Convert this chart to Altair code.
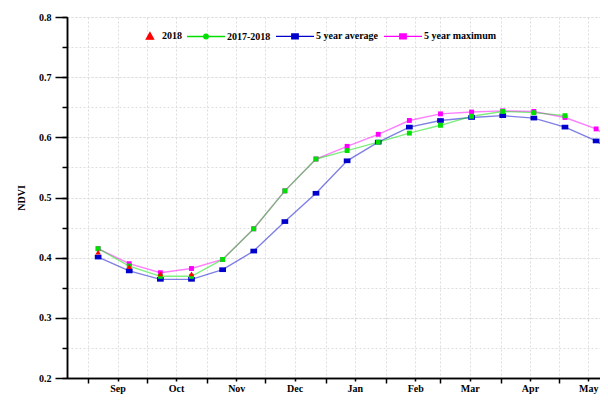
import altair as alt
import pandas as pd

# 16-day composite dates (x positions of the points)
dates = ["2017-09-06", "2017-09-22", "2017-10-08", "2017-10-24", "2017-11-09",
         "2017-11-25", "2017-12-11", "2017-12-27", "2018-01-12", "2018-01-28",
         "2018-02-13", "2018-03-01", "2018-03-17", "2018-04-02", "2018-04-18",
         "2018-05-04", "2018-05-20", "2018-06-05"]

max5 = [0.415, 0.390, 0.375, 0.382, 0.397, 0.448, 0.511, 0.564, 0.585, 0.605,
        0.628, 0.639, 0.642, 0.644, 0.643, 0.633, 0.614, 0.582]
avg5 = [0.401, 0.378, 0.364, 0.364, 0.380, 0.411, 0.460, 0.507, 0.561, 0.592,
        0.617, 0.628, 0.633, 0.636, 0.632, 0.617, 0.594, 0.560]
ndvi_1718 = [0.415, 0.386, 0.369, 0.369, 0.397, 0.448, 0.511, 0.564, 0.578, 0.592,
             0.607, 0.620, 0.635, 0.643, 0.641, 0.636]
ndvi_2018 = [0.409, 0.385, 0.373, 0.373]

series = ["2018", "2017-2018", "5 year average", "5 year maximum"]
colors = ["#ff0000", "#00e000", "#0000cc", "#ff00ff"]

months = [(2017, 9), (2017, 10), (2017, 11), (2017, 12), (2018, 1),
          (2018, 2), (2018, 3), (2018, 4), (2018, 5)]
month_starts = [alt.DateTime(year=y, month=m, date=1) for y, m in months]
mid_months = [alt.DateTime(year=y, month=m, date=16) for y, m in months]
y_major = [0.2, 0.3, 0.4, 0.5, 0.6, 0.7, 0.8]
y_minor = [0.2, 0.25, 0.3, 0.35, 0.4, 0.45, 0.5, 0.55, 0.6, 0.65, 0.7, 0.75, 0.8]


def frame(name, vals):
    return pd.DataFrame({"date": pd.to_datetime(dates[:len(vals)]),
                         "ndvi": vals, "series": name})


df = pd.concat([frame("5 year maximum", max5), frame("5 year average", avg5),
                frame("2017-2018", ndvi_1718), frame("2018", ndvi_2018)],
               ignore_index=True)

FONT = "Liberation Serif"

tri_path = "M0.47,-0.19L0.66,0.15L0.28,0.15Z"
circ_path = "M-1,0H1M0.12,0A0.12,0.12 0 1,1 -0.12,0A0.12,0.12 0 1,1 0.12,0Z"
sq_path = "M-1,0H1M-0.17,-0.13H0.17V0.13H-0.17Z"

legend = alt.Legend(
    orient="none", direction="horizontal", legendX=54, legendY=-1, title=None,
    labelFont=FONT, labelFontWeight="bold", labelFontSize=10, labelColor="black",
    symbolSize=1444, symbolStrokeWidth=1.3, symbolOpacity=1,
    labelOffset=1, columnPadding=2,
)

color_scale = alt.Scale(domain=series, range=colors)
x_scale = alt.Scale(domain=[alt.DateTime(year=2017, month=8, date=21),
                            alt.DateTime(year=2018, month=5, date=22)], nice=False)
y_scale = alt.Scale(domain=[0.2, 0.8], nice=False, zero=False)

common = dict(domainColor="black", domainWidth=1.5, tickColor="black", tickWidth=1.5,
              grid=True, gridColor="#dddddd", gridDash=[2, 2], gridWidth=1,
              labelFont=FONT, labelFontWeight="bold", labelFontSize=10,
              labelColor="black")

x_axis_major = alt.Axis(values=month_starts, labels=False, tickSize=5,
                        orient="bottom", **common)
x_axis_minor = alt.Axis(values=mid_months, format="%b", tickSize=3, orient="bottom",
                        labelOverlap=False, labelFlush=False, labelPadding=2, **common)
y_axis_minor = alt.Axis(values=y_minor, labels=False, tickSize=5, orient="left",
                        title=None, **common)
y_axis_major = alt.Axis(values=y_major, format=".1f", tickSize=12, orient="left",
                        labelPadding=4, title="NDVI", titleFont=FONT,
                        titleFontWeight="bold", titleFontSize=10, titleColor="black",
                        titlePadding=12, **common)


def enc(chart, xaxis, yaxis):
    return chart.encode(
        x=alt.X("date:T", title=None, axis=xaxis, scale=x_scale),
        y=alt.Y("ndvi:Q", axis=yaxis, scale=y_scale),
        color=alt.Color("series:N", scale=color_scale, legend=None),
    )


base = alt.Chart(df)

lines = enc(base.transform_filter("datum.series != '2018'").mark_line(
    strokeWidth=1.4, opacity=0.5, clip=True), x_axis_major, y_axis_minor)
p_max = enc(base.transform_filter("datum.series == '5 year maximum'").mark_point(
    filled=True, shape="square", size=24, opacity=1, clip=True), x_axis_minor, y_axis_major)
p_avg = enc(base.transform_filter("datum.series == '5 year average'").mark_point(
    filled=True, shape="M-1,-0.7H1V0.7H-1Z", size=45, opacity=1, clip=True), None, None)
p_1718 = enc(base.transform_filter("datum.series == '2017-2018'").mark_point(
    filled=True, shape="square", size=24, opacity=1, clip=True), None, None)
p_2018 = enc(base.transform_filter("datum.series == '2018'").mark_point(
    filled=True, shape="triangle-up", size=30, opacity=1, clip=True), None, None)

# invisible layer that only supplies the legend
leg = base.mark_point(filled=True, opacity=0, clip=True).encode(
    x=alt.X("date:T", axis=None, scale=x_scale),
    y=alt.Y("ndvi:Q", axis=None, scale=y_scale),
    color=alt.Color("series:N", scale=color_scale, legend=legend),
    stroke=alt.Stroke("series:N", scale=color_scale, legend=legend),
    shape=alt.Shape("series:N", scale=alt.Scale(domain=series,
                    range=[tri_path, circ_path, sq_path, sq_path]), legend=legend),
)

chart = alt.layer(leg, lines, p_max, p_avg, p_1718, p_2018).resolve_axis(
    x="independent", y="independent"
).properties(
    width=533, height=361,
    autosize=alt.AutoSizeParams(type="none"),
    padding={"left": 59, "top": 9, "right": 0, "bottom": 16},
).configure_view(strokeWidth=0)

chart.save("out.html", embed_options={"renderer": "svg", "actions": False})
